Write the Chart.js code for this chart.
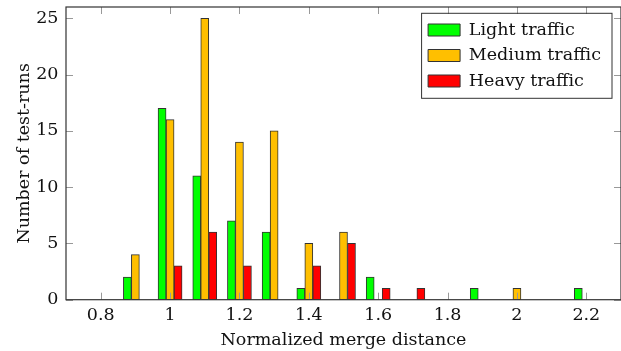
<!DOCTYPE html>
<html>
<head>
<meta charset="utf-8">
<script src="https://cdn.jsdelivr.net/npm/chart.js@4"></script>
<style>
  html, body { margin: 0; padding: 0; background: #fff; }
  #wrap { width: 621px; height: 351px; }
</style>
</head>
<body>
<div id="wrap"><canvas id="myChart"></canvas></div>
<script>
// bins of the histogram (normalized merge distance)
const bins = [0.9, 1.0, 1.1, 1.2, 1.3, 1.4, 1.5, 1.6, 1.7, 1.8, 1.9, 2.0, 2.1, 2.2];
// number of test-runs per bin
const lightTraffic  = [2, 17, 11, 7, 6, 1, 0, 2, 0, 0, 1, 0, 0, 1];
const mediumTraffic = [4, 16, 25, 14, 15, 5, 6, 0, 0, 0, 0, 1, 0, 0];
const heavyTraffic  = [0, 3, 6, 3, 0, 3, 5, 1, 1, 0, 0, 0, 0, 0];
// axis ticks
const xTicks = [0.8, 1, 1.2, 1.4, 1.6, 1.8, 2, 2.2];
const yTicks = [0, 5, 10, 15, 20, 25];

Chart.defaults.font.family = "'DejaVu Serif', serif";
Chart.defaults.font.size = 17.5;
Chart.defaults.color = '#111';

function toPoints(values) {
    return bins.map((b, i) => ({ x: b, y: values[i] }));
}

// 图框和内侧刻度 (pgfplots 风格)
const frame = {
    id: 'frame',
    afterDatasetsDraw(chart) {
        const { ctx, chartArea: a, scales } = chart;
        const len = 7;
        ctx.save();
        ctx.strokeStyle = '#999';
        ctx.lineWidth = 1;
        ctx.beginPath();
        scales.x.ticks.forEach(t => {
            const px = Math.round(scales.x.getPixelForValue(t.value)) + 0.5;
            ctx.moveTo(px, a.bottom); ctx.lineTo(px, a.bottom - len);
            ctx.moveTo(px, a.top); ctx.lineTo(px, a.top + len);
        });
        scales.y.ticks.forEach(t => {
            const py = Math.round(scales.y.getPixelForValue(t.value)) + 0.5;
            ctx.moveTo(a.left, py); ctx.lineTo(a.left + len, py);
            ctx.moveTo(a.right, py); ctx.lineTo(a.right - len, py);
        });
        ctx.stroke();
        ctx.strokeStyle = '#333';
        ctx.lineWidth = 1.2;
        ctx.strokeRect(a.left, a.top, a.right - a.left, a.bottom - a.top);
        ctx.restore();
    }
};

// 把图例放到右上角并画边框
const legendBox = {
    id: 'legendBox',
    afterUpdate(chart) {
        const lg = chart.legend;
        if (!lg || !lg.columnSizes || !lg.columnSizes.length) return;
        const pad = lg.options.labels.padding;
        const colW = lg.columnSizes[0].width;
        lg.left = 612 - 11 - colW - pad;
        lg.right = lg.left + colW + pad * 2;
        lg.top = 13.25;
        lg.bottom = chart.chartArea.bottom;
        lg.width = lg.right - lg.left;
        lg.height = lg.bottom - lg.top;
    },
    afterDraw(chart) {
        const lg = chart.legend;
        if (!lg || !lg.columnSizes || !lg.columnSizes.length) return;
        const pad = lg.options.labels.padding;
        const colW = lg.columnSizes[0].width;
        const x0 = lg.left + pad - 6.5;
        const x1 = lg.left + pad + colW + 11;
        const y0 = 13.3;
        const y1 = 98.3;
        const ctx = chart.ctx;
        ctx.save();
        ctx.strokeStyle = '#333';
        ctx.lineWidth = 1;
        ctx.strokeRect(x0, y0, x1 - x0, y1 - y0);
        ctx.restore();
    }
};

const ctx = document.getElementById('myChart').getContext('2d');
const chart = new Chart(ctx, {
    type: 'bar',
    data: {
        datasets: [{
            label: 'Light traffic',
            data: toPoints(lightTraffic),
            backgroundColor: '#00ff00',
            borderColor: '#333',
            borderWidth: 1
        }, {
            label: 'Medium traffic',
            data: toPoints(mediumTraffic),
            backgroundColor: '#ffbf00',
            borderColor: '#333',
            borderWidth: 1
        }, {
            label: 'Heavy traffic',
            data: toPoints(heavyTraffic),
            backgroundColor: '#ff0000',
            borderColor: '#333',
            borderWidth: 1
        }]
    },
    options: {
        responsive: true,
        maintainAspectRatio: false,
        animation: false,
        layout: { padding: { top: 7, right: -2.5, bottom: 0, left: 0 } },
        datasets: {
            bar: { barThickness: 8, borderSkipped: false, grouped: true }
        },
        plugins: {
            legend: {
                position: 'chartArea',
                align: 'start',
                labels: { boxWidth: 32, boxHeight: 12, padding: 8, color: '#111' }
            },
            tooltip: { enabled: false }
        },
        scales: {
            x: {
                type: 'linear',
                min: 0.7,
                max: 2.3,
                offset: false,
                grid: { display: false, drawTicks: false },
                border: { display: false },
                afterBuildTicks: scale => { scale.ticks = xTicks.map(v => ({ value: v })); },
                afterFit: scale => {
                    scale.height = 51.3;
                    scale.paddingLeft = 0;
                    scale.paddingRight = 0;
                },
                ticks: {
                    padding: 5,
                    maxRotation: 0,
                    autoSkip: false,
                    callback: v => String(v)
                },
                title: {
                    display: true,
                    text: 'Normalized merge distance',
                    padding: { top: 0, bottom: 0.5 }
                }
            },
            y: {
                min: 0,
                max: 26,
                grid: { display: false, drawTicks: false },
                border: { display: false },
                afterBuildTicks: scale => { scale.ticks = yTicks.map(v => ({ value: v })); },
                afterFit: scale => {
                    scale.width = 66;
                    scale.paddingTop = 0;
                    scale.paddingBottom = 0;
                },
                ticks: { padding: 7.5, callback: v => String(v) },
                title: {
                    display: true,
                    text: 'Number of test-runs',
                    padding: { top: 13.5, bottom: 0 }
                }
            }
        }
    },
    plugins: [frame, legendBox]
});
</script>
</body>
</html>
